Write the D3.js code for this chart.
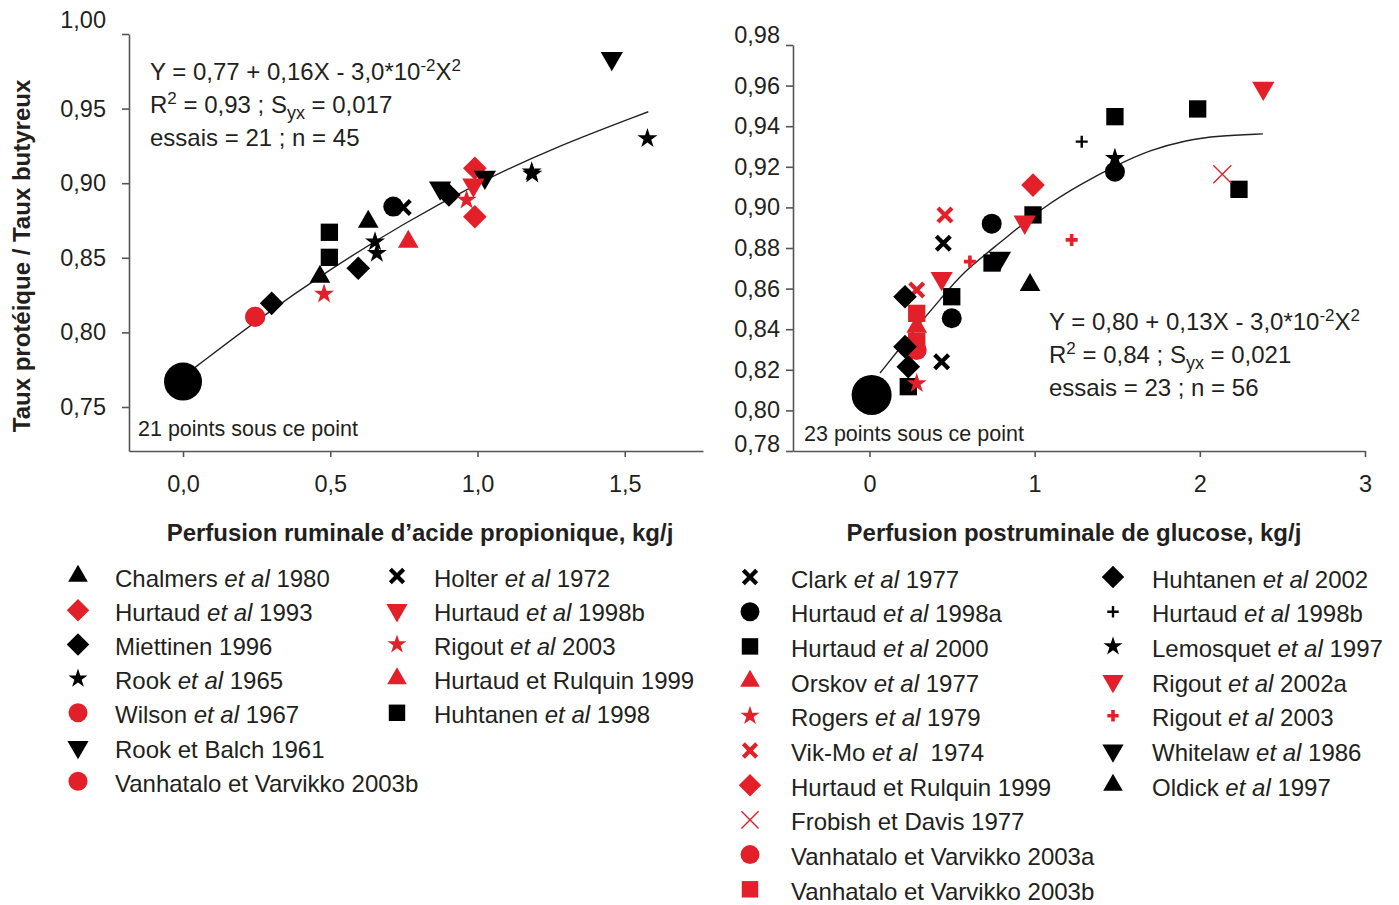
<!DOCTYPE html>
<html><head><meta charset="utf-8">
<script src="https://cdn.jsdelivr.net/npm/d3@7"></script>
<style>
body{margin:0;background:#fff;}
text{font-family:"Liberation Sans", Arial, sans-serif;fill:#231f20;white-space:pre;}
</style></head><body>
<svg id="c" width="1399" height="905" xmlns="http://www.w3.org/2000/svg"></svg>
<script>
// ---------------- DATA: left panel (ruminal propionic acid) ----------------
const leftStudies = ["Chalmers et al 1980","Hurtaud et al 1993","Miettinen 1996","Rook et al 1965",
  "Wilson et al 1967","Rook et Balch 1961","Vanhatalo et Varvikko 2003b",
  "Holter et al 1972","Hurtaud et al 1998b","Rigout et al 2003","Hurtaud et Rulquin 1999","Huhtanen et al 1998"];
const leftX = [[0.465,0.629],[0.991,0.991],[0.301,0.595,0.903],[0.652,0.658,1.184,1.186,1.577],
  [0.245],[0.873,1.025,1.456],[0.245],
  [0.748],[0.986],[0.479,0.963],[0.765],[0.497,0.497]];
const leftY = [[0.8373,0.8742],[0.910,0.8775],[0.8195,0.843,0.8921],[0.8608,0.853,0.9077,0.9062,0.930],
  [0.8105],[0.8968,0.904,0.9837],[0.8105],
  [0.8837],[0.8988],[0.8257,0.8887],[0.8608],[0.8671,0.8503]];
const leftOtherX = [0.714], leftOtherY = [0.8843];      // black circle without legend entry
const leftPooledX = [0], leftPooledY = [0.767];          // "21 points sous ce point"
const leftCurveX = [0.04,0.25,0.5,0.75,1.0,1.25,1.58];
const leftCurveY = [0.7764,0.8081,0.8425,0.8731,0.900,0.9231,0.9479];
const leftXTicks = [0,0.5,1.0,1.5];
const leftYTicks = [0.75,0.80,0.85,0.90,0.95,1.00];

// ---------------- DATA: right panel (postruminal glucose) ----------------
const rightStudies = ["Clark et al 1977","Hurtaud et al 1998a","Hurtaud et al 2000","Orskov et al 1977",
  "Rogers et al 1979","Vik-Mo et al  1974","Hurtaud et Rulquin 1999","Frobish et Davis 1977",
  "Vanhatalo et Varvikko 2003a","Vanhatalo et Varvikko 2003b",
  "Huhtanen et al 2002","Hurtaud et al 1998b","Lemosquet et al 1997","Rigout et al 2002a",
  "Rigout et al 2003","Whitelaw et al 1986","Oldick et al 1997"];
const rightX = [[0.447,0.437],[0.74,0.498,1.486],[0.99,0.742,0.498,1.486,1.987,2.237,0.235],[0.286],
  [0.286],[0.457,0.286],[0.99],[2.136],[0.286],[0.286,0.286],
  [0.215,0.215,0.235],[1.285],[1.486],[0.94,0.437,2.384],[0.608,1.224],[0.79],[0.972]];
const rightY = [[0.8823,0.824],[0.892,0.8454,0.9176],[0.8963,0.8726,0.856,0.9447,0.9485,0.9089,0.8117],[0.8412],
  [0.8133],[0.8963,0.8593],[0.911],[0.9163],[0.8297],[0.8478,0.834],
  [0.856,0.8314,0.8215],[0.9324],[0.9242],[0.8928,0.865,0.9587],[0.8733,0.884],[0.875],[0.8618]];
const rightPooledX = [0.013], rightPooledY = [0.8076];   // "23 points sous ce point"
const rightCurveX = [0.064,0.185,0.306,0.427,0.566,0.79,1.05,1.292,1.486,1.698,1.922,2.104,2.382];
const rightCurveY = [0.8184,0.8307,0.8431,0.8544,0.8682,0.8825,0.9002,0.912,0.9204,0.9283,0.9332,0.9352,0.9362];
const rightXTicks = [0,1,2,3];
const rightYTicks = [0.78,0.80,0.82,0.84,0.86,0.88,0.90,0.92,0.94,0.96,0.98];

// ---------------- STYLE ----------------
const RED = "#e3202a", BLK = "#000";
const leftShape = ["triUp","diamond","diamond","star","circle","triDown","circle","xBold","triDown","star","triUp","square"];
const leftColor = [BLK,RED,BLK,BLK,RED,BLK,RED,BLK,RED,RED,RED,BLK];
const rightShape = ["xBold","circle","square","triUp","star","xBold","diamond","xThin","circle","square",
  "diamond","plus","star","triDown","plusBold","triDown","triUp"];
const rightColor = [BLK,BLK,BLK,RED,RED,RED,RED,RED,RED,RED,BLK,BLK,BLK,RED,RED,BLK,BLK];
const FS = 24;

const svg = d3.select("#c");
const comma = f => d => d3.format(f)(d).replace(".", ",");

function marker(g, shape, color, x, y, k = 1) {
  const sym = (t, s, rot) => g.append("path")
    .attr("d", d3.symbol().type(t).size(s * k * k)())
    .attr("transform", `translate(${x},${y})` + (rot ? ` rotate(${rot})` : ""))
    .attr("fill", color);
  const cross = (h, w, diag) => {
    const p = diag ? `M${-h},${-h}L${h},${h}M${-h},${h}L${h},${-h}` : `M${-h},0L${h},0M0,${-h}L0,${h}`;
    g.append("path").attr("d", p).attr("transform", `translate(${x},${y})`)
      .attr("stroke", color).attr("stroke-width", w).attr("fill", "none");
  };
  switch (shape) {
    case "square": sym(d3.symbolSquare, 300); break;
    case "circle": sym(d3.symbolCircle, 314); break;
    case "triUp": sym(d3.symbolTriangle, 185); break;
    case "triDown": sym(d3.symbolTriangle, 215, 180); break;
    case "diamond": sym(d3.symbolSquare, 280, 45); break;
    case "star": sym(d3.symbolStar, 125); break;
    case "xBold": cross(7 * k, 4.2, true); break;
    case "xThin": cross(9 * k, 1.4, true); break;
    case "plus": cross(6 * k, 2.4, false); break;
    case "plusBold": cross(6 * k, 3.6, false); break;
  }
}

function richText(g, x, y, str, size) {
  const t = g.append("text").attr("x", x).attr("y", y).attr("font-size", size);
  const parts = str.split("et al");
  parts.forEach((p, i) => {
    if (p) t.append("tspan").text(p);
    if (i < parts.length - 1) t.append("tspan").attr("font-style", "italic").text("et al");
  });
  return t;
}

function panel(cfg) {
  const g = svg.append("g");
  const x = d3.scaleLinear().domain(cfg.xDom).range(cfg.xRange);
  const y = d3.scaleLinear().domain(cfg.yDom).range(cfg.yRange);
  // axes
  const ya = g.append("g").attr("transform", `translate(${cfg.xRange[0]},0)`)
    .call(d3.axisLeft(y).tickValues(cfg.yTicks).tickFormat(comma(".2f")).tickSize(7).tickSizeOuter(0).tickPadding(cfg.yPad));
  const xa = g.append("g").attr("transform", `translate(0,${cfg.yRange[0]})`)
    .call(d3.axisBottom(x).tickValues(cfg.xTicks).tickFormat(comma(cfg.xFmt)).tickSize(6).tickSizeOuter(0).tickPadding(18));
  [ya, xa].forEach(a => {
    a.selectAll("path,line").attr("stroke", "#555").attr("stroke-width", 1.6);
    a.selectAll("text").attr("font-size", 23.5).attr("font-family", "Liberation Sans, Arial, sans-serif").attr("fill", "#231f20");
  });
  ya.selectAll(".tick").filter(d => d === cfg.yTicks[cfg.yTicks.length - 1]).select("text").attr("dy", cfg.topDy);
  if (cfg.botDy) ya.selectAll(".tick").filter(d => d === cfg.yTicks[0]).select("text").attr("dy", cfg.botDy);

  // curve
  const line = d3.line().x(d => x(d[0])).y(d => y(d[1])).curve(d3.curveBasis);
  g.append("path").datum(cfg.curveX.map((v, i) => [v, cfg.curveY[i]]))
    .attr("d", line).attr("fill", "none").attr("stroke", "#222").attr("stroke-width", 1.4);

  // pooled point
  g.append("circle").attr("cx", x(cfg.pooledX[0])).attr("cy", y(cfg.pooledY[0])).attr("r", cfg.pooledR).attr("fill", "#000");
  if (cfg.otherX) cfg.otherX.forEach((v, i) => marker(g, "circle", BLK, x(v), y(cfg.otherY[i])));

  // points
  cfg.studies.forEach((s, si) => {
    cfg.X[si].forEach((v, i) => marker(g, cfg.shape[si], cfg.color[si], x(v), y(cfg.Y[si][i])));
  });

  // equation text
  const eq = g.append("g");
  const [ex, ey] = cfg.eqPos;
  let t = eq.append("text").attr("x", ex).attr("y", ey).attr("font-size", FS);
  t.append("tspan").text(cfg.eq[0]);
  t.append("tspan").attr("dy", -9).attr("font-size", 17).text("-2");
  t.append("tspan").attr("dy", 9).text("X");
  t.append("tspan").attr("dy", -9).attr("font-size", 17).text("2");
  t = eq.append("text").attr("x", ex).attr("y", ey + 33).attr("font-size", FS);
  t.append("tspan").text("R");
  t.append("tspan").attr("dy", -9).attr("font-size", 17).text("2");
  t.append("tspan").attr("dy", 9).text(cfg.eq[1]);
  t.append("tspan").attr("dy", 6).attr("font-size", 18).text("yx");
  t.append("tspan").attr("dy", -6).text(cfg.eq[2]);
  eq.append("text").attr("x", ex).attr("y", ey + 66).attr("font-size", FS).text(cfg.eq[3]);

  g.append("text").attr("x", cfg.notePos[0]).attr("y", cfg.notePos[1]).attr("font-size", 21.5).text(cfg.note);

  // x title
  g.append("text").attr("x", cfg.titlePos[0]).attr("y", cfg.titlePos[1]).attr("text-anchor", "middle")
    .attr("font-size", FS).attr("font-weight", "bold").text(cfg.title);

  // legend
  cfg.studies.forEach((s, si) => {
    const col = si < cfg.split ? 0 : 1;
    const row = col ? si - cfg.split : si;
    const cy = cfg.legY0 + row * cfg.legStep;
    marker(g, cfg.shape[si], cfg.color[si], cfg.legSymX[col], cy - 2, 0.95);
    richText(g, cfg.legTextX[col], cy + 8.5, s, FS);
  });
}

panel({
  xDom: [-0.1834, 1.7657], xRange: [129, 703], yDom: [0.7205, 1.0], yRange: [451, 34],
  xTicks: leftXTicks, yTicks: leftYTicks, xFmt: ".1f", yPad: 16, topDy: "-0.28em",
  curveX: leftCurveX, curveY: leftCurveY, pooledX: leftPooledX, pooledY: leftPooledY, pooledR: 19,
  otherX: leftOtherX, otherY: leftOtherY,
  studies: leftStudies, X: leftX, Y: leftY, shape: leftShape, color: leftColor,
  eq: ["Y = 0,77 + 0,16X - 3,0*10", " = 0,93 ; S", " = 0,017", "essais = 21 ; n = 45"], eqPos: [150, 80],
  note: "21 points sous ce point", notePos: [138, 436],
  title: "Perfusion ruminale d\u2019acide propionique, kg/j", titlePos: [420, 541],
  split: 7, legY0: 578, legStep: 34.2, legSymX: [78, 397], legTextX: [115, 434]
});

panel({
  xDom: [-0.463, 3.0], xRange: [793, 1365], yDom: [0.78, 0.98], yRange: [451, 45],
  xTicks: rightXTicks, yTicks: rightYTicks, xFmt: ".0f", yPad: 6, topDy: "-0.1em", botDy: "0",
  curveX: rightCurveX, curveY: rightCurveY, pooledX: rightPooledX, pooledY: rightPooledY, pooledR: 20,
  studies: rightStudies, X: rightX, Y: rightY, shape: rightShape, color: rightColor,
  eq: ["Y = 0,80 + 0,13X - 3,0*10", " = 0,84 ; S", " = 0,021", "essais = 23 ; n = 56"], eqPos: [1049, 330],
  note: "23 points sous ce point", notePos: [804, 441],
  title: "Perfusion postruminale de glucose, kg/j", titlePos: [1074, 541],
  split: 10, legY0: 579, legStep: 34.7, legSymX: [750, 1113], legTextX: [791, 1152]
});

// y title
svg.append("text").attr("transform", "translate(30,256) rotate(-90)").attr("text-anchor", "middle")
  .attr("font-size", FS).attr("font-weight", "bold").text("Taux prot\u00e9ique / Taux butyreux");
</script>
</body></html>
